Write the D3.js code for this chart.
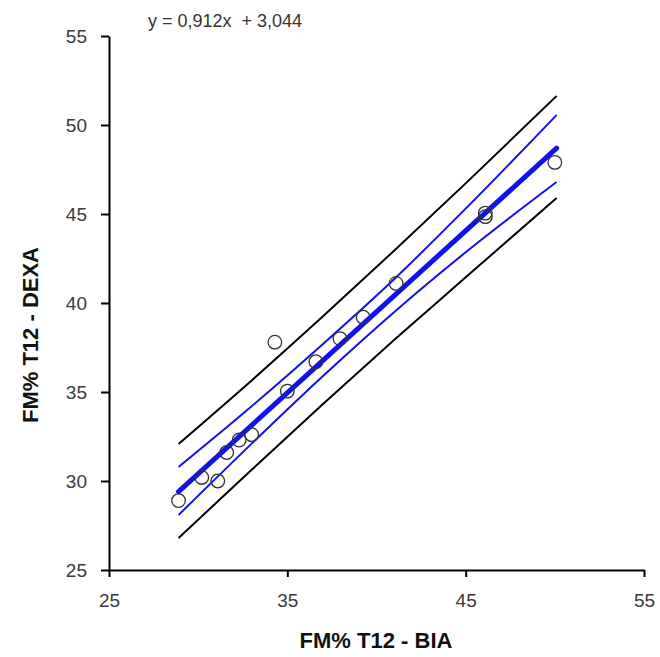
<!DOCTYPE html>
<html><head><meta charset="utf-8">
<script src="https://cdn.jsdelivr.net/npm/d3@7"></script>
<style>body{margin:0;background:#fff}svg{display:block}text{font-family:"Liberation Sans",Arial,sans-serif}</style>
</head><body><svg id="c" width="660" height="657"></svg>
<script>
// data
const bia  = [28.9, 30.2, 31.1, 31.6, 32.3, 33.0, 34.3, 35.0, 36.6, 37.95, 39.25, 41.1, 46.1, 46.1, 50.0];
const dexa = [28.9, 30.2, 30.0, 31.6, 32.3, 32.6, 37.8, 35.05, 36.7, 38.0, 39.2, 41.1, 45.05, 44.85, 47.9];
const fitX = [28.9, 50.1];
const fitY = [29.4, 48.7];
const bandX   = [28.9, 33, 37, 41, 45, 50.1];
const ciUpper = [30.79, 34.2, 37.7, 41.35, 45.3, 50.56];
const ciLower = [28.09, 32.1, 35.9, 39.5, 42.85, 46.8];
const piUpper = [32.08, 35.65, 39.25, 42.95, 46.72, 51.63];
const piLower = [26.80, 30.63, 34.32, 37.93, 41.44, 45.9];
const xTicks = [25, 35, 45, 55];
const yTicks = [25, 30, 35, 40, 45, 50, 55];
const equation = "y = 0,912x  + 3,044";
const xTitle = "FM% T12 - BIA";
const yTitle = "FM% T12 - DEXA";

const svg = d3.select("#c");
const x = d3.scaleLinear().domain([25, 55]).range([109, 644]);
const y = d3.scaleLinear().domain([25, 55]).range([570, 36]);

// axes
const gx = svg.append("g").attr("transform", "translate(0,570)")
  .call(d3.axisBottom(x).tickValues(xTicks).tickSize(7).tickPadding(16).tickSizeOuter(0));
const gy = svg.append("g").attr("transform", "translate(109,0)")
  .call(d3.axisLeft(y).tickValues(yTicks).tickSize(8).tickPadding(14).tickSizeOuter(0));
[gx, gy].forEach(g => {
  g.select(".domain").attr("stroke", "#000").attr("stroke-width", 2);
  g.selectAll(".tick line").attr("stroke", "#000").attr("stroke-width", 2);
  g.selectAll(".tick text").attr("font-size", 19).attr("fill", "#3a3a3a")
   .attr("font-family", "'Liberation Sans', Arial, sans-serif");
});
gx.selectAll(".tick text").attr("dy", "0.75em");

// bands
const pts = arr => bandX.map((v, i) => [v, arr[i]]);
const line = d3.line().x(d => x(d[0])).y(d => y(d[1])).curve(d3.curveMonotoneX);
[[piUpper, "#000", 2], [piLower, "#000", 2], [ciUpper, "#1010f0", 2], [ciLower, "#1010f0", 2]].forEach(([arr, col, w]) => {
  svg.append("path").attr("d", line(pts(arr))).attr("fill", "none").attr("stroke", col).attr("stroke-width", w);
});
svg.append("path").attr("d", d3.line().x(d => x(d[0])).y(d => y(d[1]))(fitX.map((v, i) => [v, fitY[i]])))
  .attr("fill", "none").attr("stroke", "#1010f0").attr("stroke-width", 5).attr("stroke-linecap", "round");

// points
svg.append("g").selectAll("circle").data(bia.map((v, i) => [v, dexa[i]])).join("circle")
  .attr("cx", d => x(d[0])).attr("cy", d => y(d[1])).attr("r", 6.8)
  .attr("fill", "none").attr("stroke", "#333").attr("stroke-width", 1.3);

// texts
svg.append("text").attr("x", 148).attr("y", 27).attr("font-size", 18).attr("fill", "#333")
  .attr("xml:space", "preserve").style("white-space", "pre").text(equation);
svg.append("text").attr("x", 376).attr("y", 648).attr("text-anchor", "middle")
  .attr("font-size", 22).attr("font-weight", "bold").attr("fill", "#111").text(xTitle);
svg.append("text").attr("transform", "translate(38,335) rotate(-90)").attr("text-anchor", "middle")
  .attr("font-size", 22).attr("font-weight", "bold").attr("fill", "#111").text(yTitle);
</script></body></html>
